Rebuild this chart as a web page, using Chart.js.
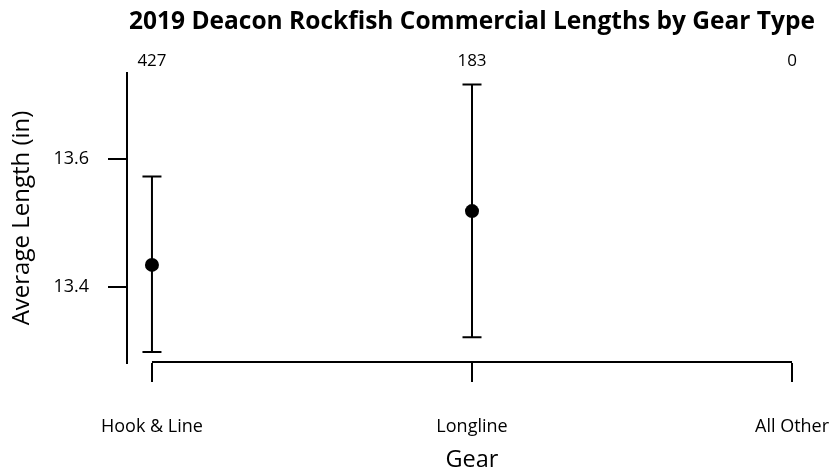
<!DOCTYPE html>
<html>
<head>
<meta charset="utf-8">
<script src="https://cdn.jsdelivr.net/npm/chart.js@4"></script>
<style>
  html, body { margin: 0; padding: 0; background: #fff; }
  canvas { display: block; }
</style>
</head>
<body>
<canvas id="chart" width="833" height="474"></canvas>
<script>
const gears = ["Hook & Line", "Longline", "All Other"];
const counts = [427, 183, 0];
const meanLength = [13.435, 13.519, null];
const lowerLength = [13.299, 13.322, null];
const upperLength = [13.573, 13.717, null];
const yTicks = [13.4, 13.6];

Chart.defaults.font.family = "'Open Sans', 'Noto Sans', sans-serif";
Chart.defaults.color = "#000";

// error bars, counts over each gear, x axis line and the title
const extras = {
  id: "extras",
  afterDatasetsDraw(chart) {
    const { ctx, chartArea, scales } = chart;
    const x = scales.x, y = scales.y;
    ctx.save();
    ctx.strokeStyle = "#000";
    ctx.lineWidth = 2;

    meanLength.forEach((m, i) => {
      if (m === null) return;
      const px = x.getPixelForValue(i);
      const lo = y.getPixelForValue(lowerLength[i]);
      const hi = y.getPixelForValue(upperLength[i]);
      ctx.beginPath();
      ctx.moveTo(px, lo); ctx.lineTo(px, hi);
      ctx.moveTo(px - 9.5, lo); ctx.lineTo(px + 9.5, lo);
      ctx.moveTo(px - 9.5, hi); ctx.lineTo(px + 9.5, hi);
      ctx.stroke();
    });

    // R style x axis line, first tick to last tick
    ctx.beginPath();
    ctx.moveTo(x.getPixelForValue(0), chartArea.bottom - 1);
    ctx.lineTo(x.getPixelForValue(gears.length - 1), chartArea.bottom - 1);
    ctx.stroke();

    ctx.fillStyle = "#000";
    ctx.textAlign = "center";
    ctx.textBaseline = "middle";
    ctx.font = "17px 'Open Sans', 'Noto Sans', sans-serif";
    counts.forEach((c, i) => {
      ctx.fillText(String(c), x.getPixelForValue(i), 61);
    });

    ctx.font = "bold 24.5px 'Open Sans', 'Noto Sans', sans-serif";
    ctx.fillText("2019 Deacon Rockfish Commercial Lengths by Gear Type",
      (chartArea.left + chartArea.right) / 2, 22);
    ctx.restore();
  }
};

const points = [];
meanLength.forEach((m, i) => { if (m !== null) points.push({ x: i, y: m }); });

new Chart(document.getElementById("chart"), {
  type: "scatter",
  data: {
    datasets: [{
      data: points,
      pointRadius: 7,
      pointHoverRadius: 7,
      backgroundColor: "#000",
      borderWidth: 0
    }]
  },
  options: {
    responsive: false,
    animation: false,
    devicePixelRatio: 1,
    layout: { padding: { top: 73, right: 16, bottom: 0, left: 0 } },
    plugins: {
      legend: { display: false },
      tooltip: { enabled: false }
    },
    scales: {
      x: {
        type: "linear",
        min: -0.078,
        max: 2.078,
        afterBuildTicks: s => { s.ticks = gears.map((g, i) => ({ value: i })); },
        afterFit: s => {
          s.height = 111;
          s.paddingLeft = 0;
          s.paddingRight = 0;
        },
        border: { display: false },
        grid: { drawOnChartArea: false, tickLength: 19, color: "#000", lineWidth: 2 },
        ticks: {
          padding: 34,
          maxRotation: 0,
          font: { size: 18 },
          callback: v => gears[v]
        },
        title: {
          display: true,
          text: "Gear",
          font: { size: 23.5 },
          padding: { top: 0, bottom: 0 }
        }
      },
      y: {
        min: 13.2817,
        max: 13.7348,
        afterBuildTicks: s => { s.ticks = yTicks.map(v => ({ value: v })); },
        afterFit: s => {
          s.width = 127;
          s.paddingTop = 0;
          s.paddingBottom = 0;
        },
        border: { display: true, color: "#000", width: 2 },
        grid: { drawOnChartArea: false, tickLength: 19, color: "#000", lineWidth: 2 },
        ticks: {
          padding: 19,
          font: { size: 18 },
          callback: v => v.toFixed(1)
        },
        title: {
          display: true,
          text: "Average Length (in)",
          font: { size: 24 },
          padding: { top: 8, bottom: 0 }
        }
      }
    }
  },
  plugins: [extras]
});
</script>
</body>
</html>
